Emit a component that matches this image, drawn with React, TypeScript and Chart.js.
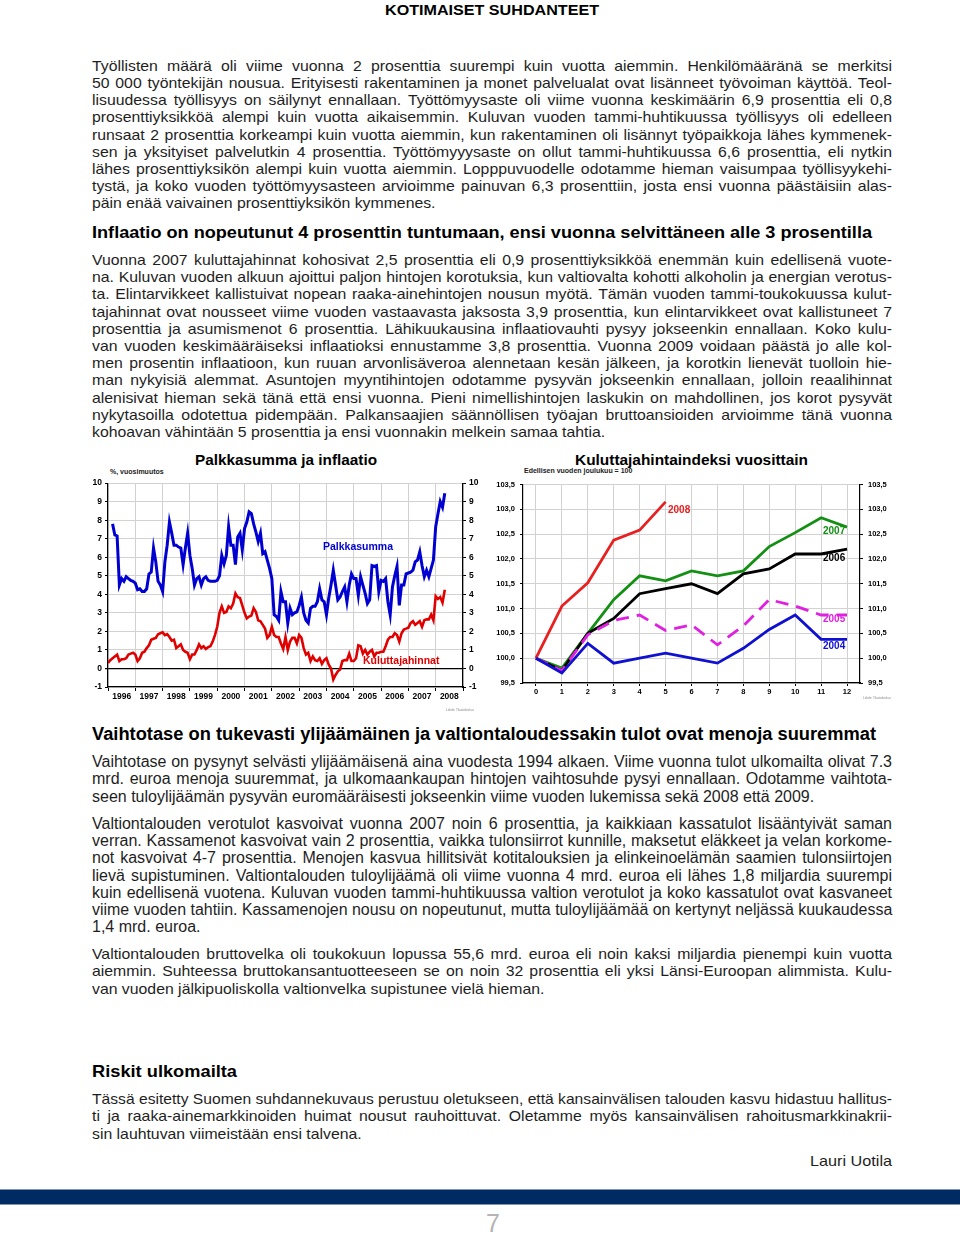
import React, { useEffect, useLayoutEffect, useRef } from 'react';
import { Chart, registerables } from 'chart.js';
Chart.register(...registerables);

// ---------- Left chart data: annual % change, monthly ----------
const yearLabels = ['1996', '1997', '1998', '1999', '2000', '2001', '2002', '2003', '2004', '2005', '2006', '2007', '2008'];
const wageFirstMonth = 2; // wage series begins March 1996
const wage1996 = [7.8, 7.2, 7.15, 4.5, 4.85, 4.7, 4.95, 4.85, 4.75, 4.7];
const wage1997 = [4.6, 4.25, 4.3, 4.15, 4.15, 4.3, 5.1, 5.2, 6.5, 5.75, 4.7, 4.5];
const wage1998 = [4.15, 5.75, 6.65, 7.9, 7.3, 6.65, 6.65, 6.55, 6.5, 5.6, 6.5, 7.3];
const wage1999 = [6.1, 5.4, 4.5, 4.85, 4.95, 4.5, 4.85, 4.95, 4.75, 4.7, 4.7, 4.7];
const wage2000 = [4.75, 5.0, 6.1, 5.65, 6.1, 7.65, 6.65, 6.65, 5.6, 7.1, 7.3, 6.4];
const wage2001 = [7.55, 7.9, 8.45, 8.35, 7.8, 7.35, 6.85, 7.3, 6.2, 6.3, 5.85, 5.4];
const wage2002 = [4.85, 2.9, 2.8, 2.6, 4.15, 3.6, 3.6, 2.45, 3.25, 2.9, 3.0, 3.05];
const wage2003 = [3.4, 3.85, 3.0, 2.6, 2.45, 3.25, 3.35, 3.35, 3.6, 4.3, 3.7, 3.6];
const wage2004 = [2.9, 3.8, 4.5, 5.3, 4.5, 3.7, 3.85, 4.15, 4.4, 3.6, 4.5, 5.1];
const wage2005 = [4.85, 4.85, 3.95, 4.95, 4.5, 4.05, 3.5, 3.7, 5.55, 5.5, 5.55, 4.15];
const wage2006 = [4.75, 4.7, 4.85, 3.6, 2.9, 4.4, 5.0, 5.5, 3.4, 4.5, 4.5, 5.1];
const wage2007 = [5.15, 5.2, 5.3, 5.75, 5.85, 6.3, 5.55, 4.95, 5.3, 4.95, 5.4, 5.85];
const wage2008 = [7.65, 8.35, 9.0, 8.7, 9.45];

const cpi1996 = [0.3, 0.45, 0.55, 0.65, 0.75, 0.4, 0.5, 0.5, 0.55, 0.75, 0.8, 0.85];
const cpi1997 = [0.75, 0.4, 0.55, 0.85, 0.9, 1.1, 1.25, 1.55, 1.6, 1.65, 1.85, 1.9];
const cpi1998 = [1.95, 1.8, 1.85, 1.7, 1.5, 1.55, 1.1, 1.2, 1.3, 1.0, 0.9, 0.85];
const cpi1999 = [0.5, 0.75, 0.75, 1.0, 1.3, 1.1, 1.2, 1.05, 1.15, 1.2, 1.45, 1.8];
const cpi2000 = [2.25, 3.0, 3.35, 3.0, 3.05, 3.35, 3.25, 3.5, 4.05, 3.85, 3.8, 3.4];
const cpi2001 = [3.0, 2.7, 2.8, 2.85, 3.25, 3.05, 2.6, 2.55, 2.35, 2.15, 1.65, 1.8];
const cpi2002 = [2.25, 1.8, 1.7, 1.7, 1.35, 1.05, 1.7, 1.0, 1.45, 1.65, 1.65, 1.35];
const cpi2003 = [1.8, 1.65, 1.1, 0.75, 0.85, 0.4, 0.65, 0.45, 0.4, 0.55, 0.25, 0.45];
const cpi2004 = [0.55, 0.2, 0.0, -0.6, -0.35, -0.15, -0.05, 0.4, 0.45, 0.45, 0.8, 0.4];
const cpi2005 = [0.4, 0.55, 1.25, 1.2, 0.8, 1.0, 0.75, 0.9, 1.0, 0.65, 0.85, 0.85];
const cpi2006 = [0.9, 0.9, 1.2, 1.55, 1.7, 1.7, 1.9, 1.8, 1.45, 1.9, 2.1, 2.15];
const cpi2007 = [2.2, 2.45, 2.55, 2.35, 2.45, 2.55, 2.25, 2.6, 2.65, 2.65, 2.9, 2.6];
const cpi2008 = [3.9, 3.75, 3.85, 3.55, 4.25];

// ---------- Right chart data: CPI index, previous December = 100 ----------
const monthLabels = ['0', '1', '2', '3', '4', '5', '6', '7', '8', '9', '10', '11', '12'];
const idx2004 = [100.0, 99.7, 100.3, 99.9, 100.0, 100.1, 100.0, 99.9, 100.2, 100.58, 100.87, 100.38, 100.38];
const idx2005 = [100.0, 99.75, 100.47, 100.76, 100.87, 100.56, 100.67, 100.27, 100.65, 101.18, 101.05, 100.87, 100.87];
const idx2006 = [100.0, 99.75, 100.5, 100.8, 101.3, 101.4, 101.5, 101.3, 101.7, 101.8, 102.1, 102.1, 102.2];
const idx2007 = [100.0, 99.8, 100.5, 101.18, 101.66, 101.56, 101.76, 101.66, 101.76, 102.25, 102.53, 102.83, 102.64];
const idx2008 = [100.0, 101.05, 101.52, 102.38, 102.58, 103.15];

// ---------- Page text ----------
const headerText = 'KOTIMAISET SUHDANTEET';
const para1 = [
  'Työllisten määrä oli viime vuonna 2 prosenttia suurempi kuin vuotta aiemmin. Henkilömääränä se merkitsi',
  '50 000 työntekijän nousua. Erityisesti rakentaminen ja monet palvelualat ovat lisänneet työvoiman käyttöä. Teol-',
  'lisuudessa työllisyys on säilynyt ennallaan. Työttömyysaste oli viime vuonna keskimäärin 6,9 prosenttia eli 0,8',
  'prosenttiyksikköä alempi kuin vuotta aikaisemmin. Kuluvan vuoden tammi-huhtikuussa työllisyys oli edelleen',
  'runsaat 2 prosenttia korkeampi kuin vuotta aiemmin, kun rakentaminen oli lisännyt työpaikkoja lähes kymmenek-',
  'sen ja yksityiset palvelutkin 4 prosenttia. Työttömyyysaste on ollut tammi-huhtikuussa 6,6 prosenttia, eli nytkin',
  'lähes prosenttiyksikön alempi kuin vuotta aiemmin. Lopppuvuodelle odotamme hieman vaisumpaa työllisyykehi-',
  'tystä, ja koko vuoden työttömyysasteen arvioimme painuvan 6,3 prosenttiin, josta ensi vuonna päästäisiin alas-',
  'päin enää vaivainen prosenttiyksikön kymmenes.',
];
const heading1 = 'Inflaatio on nopeutunut 4 prosenttin tuntumaan, ensi vuonna selvittäneen alle 3 prosentilla';
const para2 = [
  'Vuonna 2007 kuluttajahinnat kohosivat 2,5 prosenttia eli 0,9 prosenttiyksikköä enemmän kuin edellisenä vuote-',
  'na. Kuluvan vuoden alkuun ajoittui paljon hintojen korotuksia, kun valtiovalta kohotti alkoholin ja energian verotus-',
  'ta. Elintarvikkeet kallistuivat nopean raaka-ainehintojen nousun myötä. Tämän vuoden tammi-toukokuussa kulut-',
  'tajahinnat ovat nousseet viime vuoden vastaavasta jaksosta 3,9 prosenttia, kun elintarvikkeet ovat kallistuneet 7',
  'prosenttia ja asumismenot 6 prosenttia.  Lähikuukausina inflaatiovauhti pysyy jokseenkin ennallaan. Koko kulu-',
  'van vuoden keskimääräiseksi inflaatioksi ennustamme 3,8 prosenttia. Vuonna 2009 voidaan päästä jo alle kol-',
  'men prosentin inflaatioon, kun ruuan arvonlisäveroa alennetaan kesän jälkeen, ja korotkin lienevät tuolloin hie-',
  'man nykyisiä alemmat. Asuntojen myyntihintojen odotamme pysyvän jokseenkin ennallaan, jolloin reaalihinnat',
  'alenisivat hieman sekä tänä että ensi vuonna. Pieni nimellishintojen laskukin on mahdollinen, jos korot pysyvät',
  'nykytasoilla odotettua pidempään. Palkansaajien säännöllisen työajan bruttoansioiden arvioimme tänä vuonna',
  'kohoavan vähintään 5 prosenttia ja ensi vuonnakin melkein samaa tahtia.',
];
const heading2 = 'Vaihtotase on tukevasti ylijäämäinen ja valtiontaloudessakin tulot ovat menoja suuremmat';
const para3 = [
  'Vaihtotase on pysynyt selvästi ylijäämäisenä aina vuodesta 1994 alkaen. Viime vuonna tulot ulkomailta olivat 7.3',
  'mrd. euroa menoja suuremmat, ja ulkomaankaupan hintojen vaihtosuhde pysyi ennallaan. Odotamme vaihtota-',
  'seen tuloylijäämän pysyvän euromääräisesti jokseenkin viime vuoden lukemissa sekä 2008 että 2009.',
];
const para4 = [
  'Valtiontalouden verotulot kasvoivat vuonna 2007 noin 6 prosenttia, ja kaikkiaan kassatulot lisääntyivät saman',
  'verran. Kassamenot kasvoivat vain 2 prosenttia, vaikka tulonsiirrot kunnille, maksetut eläkkeet ja velan korkome-',
  'not kasvoivat 4-7 prosenttia. Menojen kasvua hillitsivät kotitalouksien ja elinkeinoelämän saamien tulonsiirtojen',
  'lievä supistuminen. Valtiontalouden tuloylijäämä oli viime vuonna 4 mrd. euroa eli lähes 1,8 miljardia suurempi',
  'kuin edellisenä vuotena. Kuluvan vuoden tammi-huhtikuussa valtion verotulot ja koko kassatulot ovat kasvaneet',
  'viime vuoden tahtiin. Kassamenojen nousu on nopeutunut, mutta tuloylijäämää on kertynyt neljässä kuukaudessa',
  '1,4 mrd. euroa.',
];
const para5 = [
  'Valtiontalouden bruttovelka oli toukokuun lopussa 55,6 mrd. euroa eli noin kaksi miljardia pienempi kuin vuotta',
  'aiemmin. Suhteessa bruttokansantuotteeseen se on noin 32 prosenttia eli yksi Länsi-Euroopan alimmista. Kulu-',
  'van vuoden jälkipuoliskolla valtionvelka supistunee vielä hieman.',
];
const heading3 = 'Riskit ulkomailta';
const para6 = [
  'Tässä esitetty Suomen suhdannekuvaus perustuu oletukseen, että kansainvälisen talouden kasvu hidastuu hallitus-',
  'ti ja raaka-ainemarkkinoiden huimat nousut rauhoittuvat. Oletamme myös kansainvälisen rahoitusmarkkinakrii-',
  'sin lauhtuvan viimeistään ensi talvena.',
];
const signature = 'Lauri Uotila';
const pageNumber = '7';

const BODY = '"Liberation Sans", Arial, sans-serif';
const TEXT = '#1e1e1e';

function Line({ text, top, size, scale, last }: { text: string; top: number; size: number; scale: number; last: boolean }) {
  const ref = useRef<HTMLDivElement>(null);
  const W = 800;
  useLayoutEffect(() => {
    const el = ref.current!;
    if (el.scrollWidth > el.clientWidth + 0.5) {
      const f = el.clientWidth / el.scrollWidth;
      const s2 = scale * f;
      el.style.width = W / s2 + 'px';
      el.style.transform = `scaleX(${s2})`;
    }
  }, []);
  return (
    <div
      ref={ref}
      style={{
        position: 'absolute',
        left: 92,
        width: W / scale,
        top: top - 10,
        height: 20,
        lineHeight: '20px',
        fontFamily: BODY,
        fontSize: size,
        color: TEXT,
        whiteSpace: 'nowrap',
        overflow: 'visible',
        textAlign: 'justify',
        textAlignLast: last ? 'left' : 'justify',
        transform: `scaleX(${scale})`,
        transformOrigin: '0 0',
      } as React.CSSProperties}
    >
      {text}
    </div>
  );
}

function Para({ lines, top, step, size, scale }: { lines: string[]; top: number; step: number; size: number; scale: number }) {
  return (
    <>
      {lines.map((t, i) => (
        <Line key={i} text={t} top={top + i * step} size={size} scale={scale} last={i === lines.length - 1} />
      ))}
    </>
  );
}

// text stretched/compressed horizontally to span [x0, x0+width], vertically centred on y
function FitText({ text, x0, width, y, size, color, weight }: { text: string; x0: number; width: number; y: number; size: number; color?: string; weight?: string }) {
  const ref = useRef<HTMLSpanElement>(null);
  useLayoutEffect(() => {
    const el = ref.current!;
    const w = el.getBoundingClientRect().width;
    if (w > 0) el.style.transform = `scaleX(${width / w})`;
  }, []);
  return (
    <span
      ref={ref}
      style={{
        position: 'absolute',
        left: x0,
        top: y - size * 0.6,
        lineHeight: `${Math.round(size * 1.2)}px`,
        display: 'inline-block',
        whiteSpace: 'nowrap',
        fontFamily: BODY,
        fontSize: size,
        fontWeight: (weight || 'bold') as any,
        color: color || '#000',
        transformOrigin: '0 0',
      }}
    >
      {text}
    </span>
  );
}

function Abs({ x, y, children, style }: { x: number; y: number; children: React.ReactNode; style?: React.CSSProperties }) {
  return (
    <div style={{ position: 'absolute', left: x, top: y, whiteSpace: 'nowrap', ...style }}>{children}</div>
  );
}

function WageChart() {
  const ref = useRef<HTMLCanvasElement>(null);
  useEffect(() => {
    const wageAll = [...wage1996, ...wage1997, ...wage1998, ...wage1999, ...wage2000, ...wage2001, ...wage2002, ...wage2003, ...wage2004, ...wage2005, ...wage2006, ...wage2007, ...wage2008];
    const cpiAll = [...cpi1996, ...cpi1997, ...cpi1998, ...cpi1999, ...cpi2000, ...cpi2001, ...cpi2002, ...cpi2003, ...cpi2004, ...cpi2005, ...cpi2006, ...cpi2007, ...cpi2008];
    const tickFont = { family: 'Arial, "Liberation Sans"', size: 8.5, weight: 'bold' as const };
    const chart = new Chart(ref.current!, {
      type: 'line',
      data: {
        datasets: [
          { data: cpiAll.map((v, i) => ({ x: i, y: v })), borderColor: '#e00000', borderWidth: 2.6, pointRadius: 0, tension: 0 },
          { data: wageAll.map((v, i) => ({ x: i + wageFirstMonth, y: v })), borderColor: '#0000d0', borderWidth: 3, pointRadius: 0, tension: 0 },
        ],
      },
      options: {
        animation: false,
        responsive: false,
        maintainAspectRatio: false,
        layout: { padding: { top: 8, left: 0, right: 0, bottom: 0 } },
        plugins: { legend: { display: false }, tooltip: { enabled: false } },
        scales: {
          x: {
            type: 'linear',
            min: 0,
            max: yearLabels.length * 12,
            afterBuildTicks: (axis: any) => {
              const t = [];
              for (let v = 0; v <= yearLabels.length * 12; v += 6) t.push({ value: v });
              axis.ticks = t;
            },
            afterFit: (axis: any) => { axis.height = 18; },
            ticks: {
              autoSkip: false,
              maxRotation: 0,
              padding: 1,
              color: '#000',
              font: tickFont as any,
              callback: (v: any) => (Number(v) % 12 === 6 ? yearLabels[(Number(v) - 6) / 12] : ''),
            },
            grid: {
              color: (c: any) => (c.tick && c.tick.value % 12 === 0 ? '#d2d2d2' : 'rgba(0,0,0,0)'),
              tickColor: (c: any) => (c.tick && c.tick.value % 12 === 0 ? '#000' : 'rgba(0,0,0,0)'),
              tickLength: 4,
            },
            border: { color: '#000', width: 1.2 },
          },
          y: {
            min: -1,
            max: 10,
            afterFit: (axis: any) => { axis.width = 20; },
            ticks: { stepSize: 1, color: '#000', font: tickFont as any, padding: 3 },
            grid: {
              color: (c: any) => (c.tick && c.tick.value === 0 ? '#000' : '#d2d2d2'),
              lineWidth: (c: any) => (c.tick && c.tick.value === 0 ? 1.3 : 1),
              tickLength: 3,
              tickColor: '#000',
            },
            border: { color: '#000', width: 1.2 },
          },
          y2: {
            position: 'right',
            min: -1,
            max: 10,
            afterFit: (axis: any) => { axis.width = 25; },
            ticks: { stepSize: 1, color: '#000', font: tickFont as any, padding: 3 },
            grid: { drawOnChartArea: false, tickLength: 3, tickColor: '#000' },
            border: { color: '#000', width: 1.2 },
          },
        },
      } as any,
    });
    return () => chart.destroy();
  }, []);
  return <canvas ref={ref} width={400} height={230} style={{ display: 'block' }} />;
}

function IndexChart() {
  const ref = useRef<HTMLCanvasElement>(null);
  useEffect(() => {
    const tickFont = { family: 'Arial, "Liberation Sans"', size: 7.5, weight: 'bold' as const };
    const fmt = (v: any) => Number(v).toFixed(1).replace('.', ',');
    const chart = new Chart(ref.current!, {
      type: 'line',
      data: {
        labels: monthLabels,
        datasets: [
          { data: idx2004, borderColor: '#1010d0', borderWidth: 2.8, pointRadius: 0 },
          { data: idx2005, borderColor: '#e020e0', borderWidth: 2.8, pointRadius: 0, borderDash: [13, 8] },
          { data: idx2006, borderColor: '#000000', borderWidth: 2.8, pointRadius: 0 },
          { data: idx2007, borderColor: '#139013', borderWidth: 2.8, pointRadius: 0 },
          { data: idx2008, borderColor: '#e82020', borderWidth: 2.8, pointRadius: 0 },
        ],
      },
      options: {
        animation: false,
        responsive: false,
        maintainAspectRatio: false,
        layout: { padding: { top: 7, left: 0, right: 0, bottom: 0 } },
        plugins: { legend: { display: false }, tooltip: { enabled: false } },
        scales: {
          x: {
            offset: true,
            afterFit: (axis: any) => { axis.height = 16; },
            ticks: { color: '#000', font: tickFont as any, padding: 1, maxRotation: 0, autoSkip: false },
            grid: { offset: false, color: '#d2d2d2', tickLength: 3, tickColor: '#000' },
            border: { color: '#000', width: 1.2 },
          },
          y: {
            min: 99.5,
            max: 103.5,
            afterFit: (axis: any) => { axis.width = 33; },
            ticks: { stepSize: 0.5, color: '#000', font: tickFont as any, padding: 5, callback: fmt },
            grid: { color: '#d2d2d2', tickLength: 3, tickColor: '#000' },
            border: { color: '#000', width: 1.2 },
          },
          y2: {
            position: 'right',
            min: 99.5,
            max: 103.5,
            afterFit: (axis: any) => { axis.width = 35; },
            ticks: { stepSize: 0.5, color: '#000', font: tickFont as any, padding: 5, callback: fmt },
            grid: { drawOnChartArea: false, tickLength: 3, tickColor: '#000' },
            border: { color: '#000', width: 1.2 },
          },
        },
      } as any,
    });
    return () => chart.destroy();
  }, []);
  return <canvas ref={ref} width={405} height={224} style={{ display: 'block' }} />;
}

export default function App() {
  const small: React.CSSProperties = { fontFamily: 'Arial, "Liberation Sans"', fontWeight: 'bold', fontSize: 7, color: '#222' };
  const lbl = (color: string, size: number): React.CSSProperties => ({ fontFamily: 'Arial, "Liberation Sans"', fontWeight: 'bold', fontSize: size, color });
  return (
    <div style={{ position: 'absolute', left: 0, top: 0, width: 960, height: 1236, background: '#fff', overflow: 'hidden' }}>
      <FitText text={headerText} x0={385} width={214} y={10} size={15} />

      <Para lines={para1} top={66} step={17.15} size={14.5} scale={1.09} />
      <FitText text={heading1} x0={92} width={780} y={232} size={16.5} />
      <Para lines={para2} top={260} step={17.2} size={14.5} scale={1.09} />

      {/* Left chart */}
      <FitText text="Palkkasumma ja inflaatio" x0={195} width={182} y={460} size={14} />
      <Abs x={110} y={468} style={small}>%, vuosimuutos</Abs>
      <div style={{ position: 'absolute', left: 88, top: 475 }}><WageChart /></div>
      <Abs x={323} y={540} style={lbl('#0000d0', 10.5)}>Palkkasumma</Abs>
      <Abs x={363} y={654} style={lbl('#e00000', 10.5)}>Kuluttajahinnat</Abs>
      <Abs x={446} y={708} style={{ fontFamily: BODY, fontSize: 3, color: '#888' }}>Lähde: Tilastokeskus</Abs>

      {/* Right chart */}
      <FitText text="Kuluttajahintaindeksi vuosittain" x0={575} width={233} y={460} size={14} />
      <Abs x={524} y={467} style={small}>Edellisen vuoden joulukuu = 100</Abs>
      <div style={{ position: 'absolute', left: 490, top: 475 }}><IndexChart /></div>
      <Abs x={668} y={504} style={lbl('#e82020', 10)}>2008</Abs>
      <Abs x={823} y={525} style={lbl('#139013', 10)}>2007</Abs>
      <Abs x={823} y={552} style={lbl('#000000', 10)}>2006</Abs>
      <Abs x={823} y={613} style={lbl('#e020e0', 10)}>2005</Abs>
      <Abs x={823} y={640} style={lbl('#1010d0', 10)}>2004</Abs>
      <Abs x={863} y={696} style={{ fontFamily: BODY, fontSize: 3, color: '#888' }}>Lähde: Tilastokeskus</Abs>

      <FitText text={heading2} x0={92} width={784} y={734} size={18} />
      <Para lines={para3} top={762} step={17.4} size={16} scale={1} />
      <Para lines={para4} top={824} step={17.2} size={16} scale={1} />
      <Para lines={para5} top={954} step={17.4} size={14.5} scale={1.09} />
      <FitText text={heading3} x0={92} width={145} y={1071} size={16.5} />
      <Para lines={para6} top={1099} step={17.4} size={14.5} scale={1.09} />
      <FitText text={signature} x0={810} width={82} y={1161} size={15} weight="normal" color={TEXT} />

      <div style={{ position: 'absolute', left: 0, top: 1189, width: 960, height: 1, background: '#7f95b0' }} />
      <div style={{ position: 'absolute', left: 0, top: 1190, width: 960, height: 14, background: '#002b62' }} />
      <div style={{ position: 'absolute', left: 0, top: 1204, width: 960, height: 1, background: '#7f95b0' }} />
      <Abs x={493} y={1212} style={{ transform: 'translateX(-50%)', fontFamily: BODY, fontSize: 25, color: '#b4b4b4', lineHeight: '23px' }}>{pageNumber}</Abs>
    </div>
  );
}
